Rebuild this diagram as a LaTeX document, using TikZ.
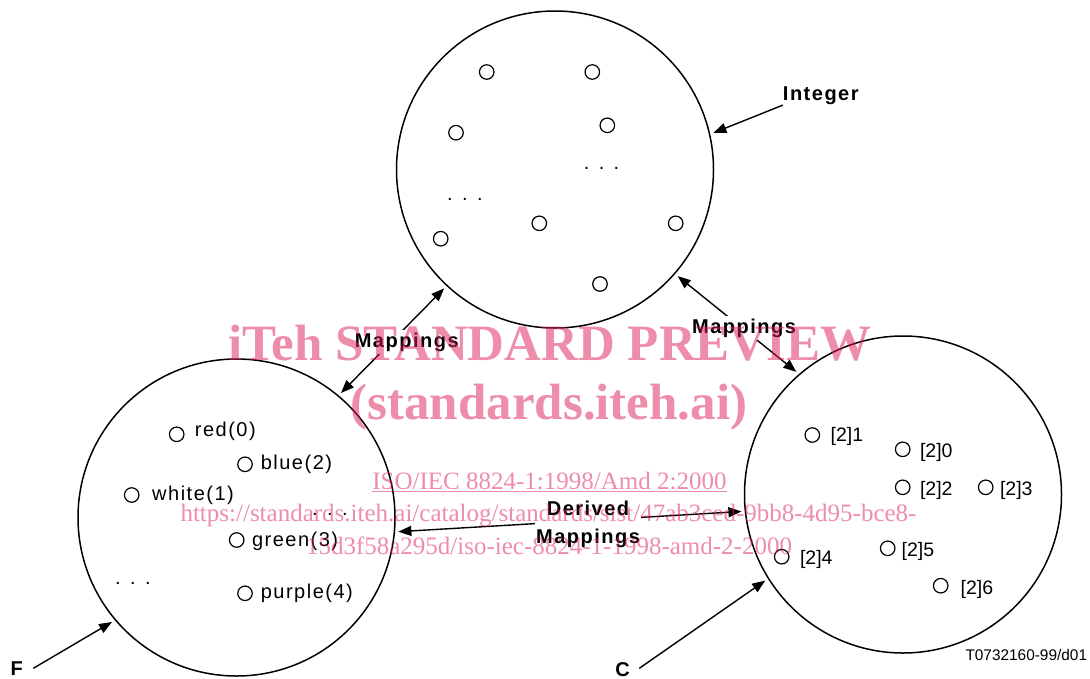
\documentclass[tikz,border=0pt]{standalone}
\usepackage{fontspec}
\setmainfont{Liberation Sans}
\newfontfamily\lblfont{Liberation Sans}[LetterSpace=7.5]
\newfontfamily\wmfont{Liberation Serif}
\usetikzlibrary{arrows.meta}
\definecolor{wmpink}{RGB}{221,29,85}

\tikzset{
  ring/.style={circle, draw, line width=1.5pt, minimum size=317pt, inner sep=0pt, outer sep=4pt},
  elem/.style={circle, draw, line width=1.2pt, minimum size=14.5pt, inner sep=0pt},
  tag/.style={inner sep=0pt, anchor=base west, font=\lblfont\fontsize{20}{24}\selectfont},
  idx/.style={inner sep=0pt, anchor=base west, font=\fontsize{19.5}{24}\selectfont},
  head/.style={inner sep=0pt, anchor=base, font=\lblfont\bfseries\fontsize{20}{28}\selectfont},
  boxhead/.style={head, fill=white, inner sep=2.5pt},
  hd/.tip={Triangle[length=13pt,width=10pt]},
  link/.style={line width=1.4pt, -{hd}},
  link2/.style={line width=1.4pt, {hd}-{hd}},
  wmline/.style={text=wmpink, text opacity=0.5, inner sep=0pt, anchor=base},
}

\begin{document}
\begin{tikzpicture}[x=1pt, y=-1pt]
  \fill[white] (0,0) rectangle (1090,678);
  \useasboundingbox (0,0) rectangle (1090,678);

  % the three value sets
  \node[ring] (ringI) at (555,169.5) {};
  \node[ring] (ringF) at (236.5,517.5) {};
  \node[ring] (ringC) at (903,494.5) {};

  % Integer values
  \node[elem] (i1) at (486.7,72) {};
  \node[elem] (i2) at (592.3,72) {};
  \node[elem] (i3) at (456,132.7) {};
  \node[elem] (i4) at (607.3,125.3) {};
  \node[elem] (i5) at (440.7,238.7) {};
  \node[elem] (i6) at (539.3,223.3) {};
  \node[elem] (i7) at (675.7,223.3) {};
  \node[elem] (i8) at (600,284) {};
  \node[tag] (idots1) at (583.6,169.6) {. . .};
  \node[tag] (idots2) at (446.9,200.6) {. . .};

  % F values
  \node[elem] (f0) at (176.7,434.3) {};
  \node[tag] (f0t) at (194.7,436.5) {red(0)};
  \node[elem] (f2) at (245,464.3) {};
  \node[tag] (f2t) at (260.6,469.3) {blue(2)};
  \node[elem] (f1) at (131.7,495) {};
  \node[tag] (f1t) at (152,500.7) {white(1)};
  \node[tag] (fdots1) at (311.9,515.6) {. . .};
  \node[elem] (f3) at (236.7,540) {};
  \node[tag] (f3t) at (251.8,546) {green(3)};
  \node[tag] (fdots2) at (114.9,584) {. . .};
  \node[elem] (f4) at (245,593.3) {};
  \node[tag] (f4t) at (260.6,598.3) {purple(4)};

  % C values
  \node[elem] (c1) at (812.3,435) {};
  \node[idx] (c1t) at (830.5,441.7) {[2]1};
  \node[elem] (c0) at (902.7,449.3) {};
  \node[idx] (c0t) at (919.8,457.3) {[2]0};
  \node[elem] (c2) at (902.7,487.3) {};
  \node[idx] (c2t) at (919.8,495.7) {[2]2};
  \node[elem] (c3) at (985.7,487.3) {};
  \node[idx] (c3t) at (999.8,495.7) {[2]3};
  \node[elem] (c5) at (887.7,548.3) {};
  \node[idx] (c5t) at (901.5,556.7) {[2]5};
  \node[elem] (c4) at (781.7,556.7) {};
  \node[idx] (c4t) at (799.8,564.3) {[2]4};
  \node[elem] (c6) at (940.7,585.7) {};
  \node[idx] (c6t) at (960.5,594) {[2]6};

  % set names
  \node[head] (lblInt) at (820.8,100.7) {Integer};
  \node[head] (lblF) at (16.7,675) {F};
  \node[head] (lblC) at (622.7,676.5) {C};
  \coordinate (Ftail) at (33.3,668.3);
  \coordinate (Ctail) at (639.3,668.3);

  \draw[link] (lblInt.south west) -- (ringI.13.5);
  \draw[link] (Ftail) -- (ringF.220.2);
  \draw[link] (Ctail) -- (ringC.212.6);

  % mappings between the sets
  \draw[link2] (ringF.50.4) -- (ringI.227.2);
  \node[boxhead] (mapFI) at (406.7,347.3) {Mappings};
  \draw[link2] (ringI.319.4) -- (ringC.131.3);
  \node[boxhead] (mapIC) at (744,333.3) {Mappings};
  \draw[link2] (ringF.-5.9) -- (ringC.186.1);
  \node[boxhead, anchor=center, align=center, inner sep=1pt] (mapFC) at (588,524) {Derived\\Mappings};

  \node[inner sep=0pt, anchor=base west, font=\fontsize{15.4}{18}\selectfont] (fig) at (965.3,660.5) {T0732160-99/d01};

  % overprinted notice
  \node[wmline, font=\wmfont\bfseries\fontsize{51}{51}\selectfont] (wm1) at (550,360) {iTeh STANDARD PREVIEW};
  \node[wmline, font=\wmfont\bfseries\fontsize{51}{51}\selectfont] (wm2) at (549,419) {(standards.iteh.ai)};
  \node[wmline, font=\wmfont\fontsize{25}{25}\selectfont] (wm3) at (549.5,489) {\underline{ISO/IEC 8824-1:1998/Amd 2:2000}};
  \node[wmline, font=\wmfont\fontsize{25}{25}\selectfont] (wm4) at (548.5,521.7) {https://standards.iteh.ai/catalog/standards/sist/47ab3ced-9bb8-4d95-bce8-};
  \node[wmline, font=\wmfont\fontsize{25}{25}\selectfont] (wm5) at (549,554) {15d3f58a295d/iso-iec-8824-1-1998-amd-2-2000};
\end{tikzpicture}
\end{document}
